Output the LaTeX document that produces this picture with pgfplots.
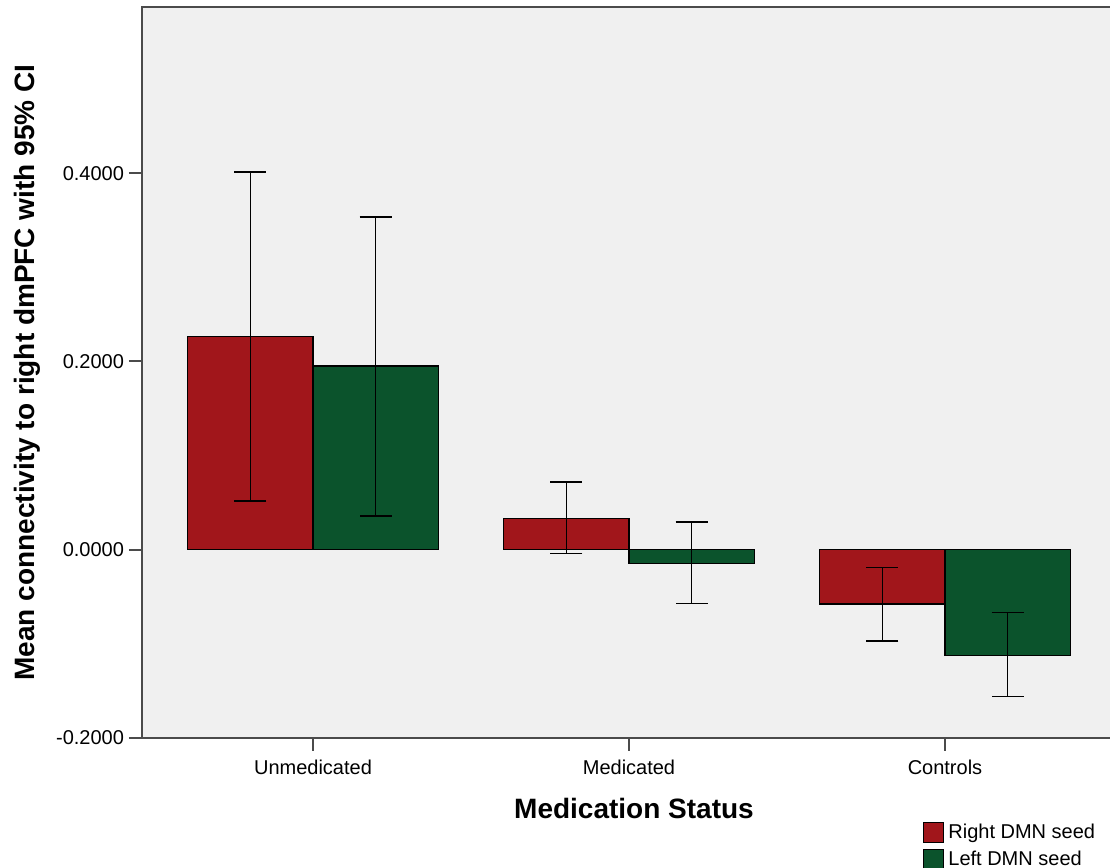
\documentclass[border=0pt]{standalone}
\usepackage{pgfplots}
\pgfplotsset{compat=1.18}
\usepackage{fontspec}
\setmainfont{Liberation Sans}
\definecolor{bgc}{RGB}{240,240,240}
\definecolor{redbar}{RGB}{161,22,27}
\definecolor{greenbar}{RGB}{11,83,44}
\definecolor{axc}{RGB}{75,75,75}
\pgfplotstableread{
x y ep em
-0.198 0.2269 0.1742 0.1752
0.802 0.0336 0.0383 0.0374
1.802 -0.0577 0.0386 0.0393
}\rightdata
\pgfplotstableread{
x y ep em
0.198 0.1951 0.1582 0.1593
1.198 -0.0145 0.0439 0.0428
2.198 -0.1121 0.0452 0.0440
}\leftdata
\begin{document}
\begin{tikzpicture}
\useasboundingbox (-71pt,-65pt) rectangle (484pt,369pt);
\begin{axis}[
  at={(0,0)}, anchor=south west,
  scale only axis, width=488pt, height=365.5pt,
  xmin=-0.5411, xmax=2.5475, ymin=-0.2, ymax=0.5766,
  axis background/.style={fill=bgc},
  axis line style={draw=axc, line width=1.1pt},
  tick style={draw=axc, line width=1pt},
  tick align=outside, major tick length=6.5pt,
  xtick={0,1,2}, xticklabels={Unmedicated,Medicated,Controls},
  ytick={-0.2,0,0.2,0.4},
  xtick pos=bottom, ytick pos=left,
  /pgf/number format/assume math mode=true,
  yticklabel={\pgfmathprintnumber[fixed,fixed zerofill,precision=4]{\tick}},
  ticklabel style={font=\fontsize{10}{12}\selectfont},
  xticklabel style={yshift=-1pt},
  yticklabel style={xshift=1pt},
  xlabel={Medication Status},
  ylabel={Mean connectivity to right dmPFC with 95\% CI},
  label style={font=\fontsize{14}{16}\selectfont\bfseries},
  xlabel style={at={(axis description cs:0.5041,-0.0958)}, anchor=center},
  ylabel style={at={(axis description cs:-0.1178,0.5)}, anchor=center},
  legend style={at={(axis description cs:0.800,-0.111)}, anchor=north west,
    draw=none, fill=none, font=\fontsize{10}{12}\selectfont,
    row sep=0.8pt, inner sep=0pt, cells={anchor=west}},
  legend image code/.code={\draw[#1, draw=black, line width=0.6pt] (0pt,-5pt) rectangle (10pt,5pt);},
  bar width=0.396, bar shift=0pt,
  error bars/y dir=both, error bars/y explicit,
  error bars/error mark=-,
  error bars/error mark options={rotate=90, mark size=8pt, line width=0.75pt, black},
  error bars/error bar style={line width=0.75pt, black},
]
\addplot[ybar, fill=redbar, draw=black, line width=0.6pt]
  table[x=x, y=y, y error plus=ep, y error minus=em] {\rightdata};
\addlegendentry{Right DMN seed}
\addplot[ybar, fill=greenbar, draw=black, line width=0.6pt]
  table[x=x, y=y, y error plus=ep, y error minus=em] {\leftdata};
\addlegendentry{Left DMN seed}
\end{axis}
\end{tikzpicture}
\end{document}
